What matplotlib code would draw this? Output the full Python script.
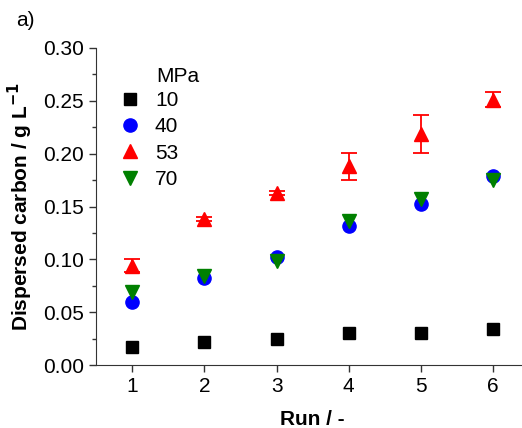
import matplotlib
matplotlib.use("Agg")
import matplotlib.pyplot as plt
from matplotlib.ticker import MultipleLocator

plt.rcParams['font.family'] = ['Liberation Sans', 'DejaVu Sans']

runs = [1, 2, 3, 4, 5, 6]
p10 = [0.017, 0.022, 0.025, 0.030, 0.030, 0.034]
p40 = [0.060, 0.082, 0.102, 0.132, 0.152, 0.179]
p53 = [0.094, 0.138, 0.163, 0.188, 0.219, 0.251]
p53_err = [0.006, 0.002, 0.002, 0.013, 0.018, 0.007]
p70 = [0.069, 0.084, 0.098, 0.136, 0.157, 0.175]

fig = plt.figure(figsize=(5.22, 4.28), dpi=100)
ax = fig.add_axes([0.184, 0.147, 0.83, 0.741])

h10, = ax.plot(runs, p10, 's', color='black', markersize=8.5, clip_on=False)
h40, = ax.plot(runs, p40, 'o', color='#0000ff', markersize=9.5, clip_on=False)
eb = ax.errorbar(runs, p53, yerr=p53_err, fmt='^', color='#ff0000', markersize=10,
                 capsize=5.5, elinewidth=1.3, capthick=1.3, clip_on=False)
h53 = eb[0]
h70, = ax.plot(runs, p70, 'v', color='#008000', markersize=10, clip_on=False)

ax.set_xlim(0.5, 6.5)
ax.set_ylim(0, 0.30)
ax.xaxis.set_major_locator(MultipleLocator(1))
ax.yaxis.set_major_locator(MultipleLocator(0.05))
ax.yaxis.set_minor_locator(MultipleLocator(0.025))
ax.set_yticklabels([f'{v:.2f}' for v in ax.get_yticks()])
ax.tick_params(which='both', direction='out', labelsize=15, width=1, color='#333333')
ax.tick_params(which='major', length=5)
ax.tick_params(which='minor', length=3)
for s in ['top', 'right']:
    ax.spines[s].set_visible(False)
for s in ['left', 'bottom']:
    ax.spines[s].set_color('#333333')

ax.set_xlabel('Run / -', fontsize=15, fontweight='bold', labelpad=10)
ax.set_ylabel('Dispersed carbon / g L$^{\\mathbf{-1}}$', fontsize=15, fontweight='bold', labelpad=6)

# legend without title, "MPa" placed as its own text above the labels
ax.legend([h10, h40, h53, h70], ['10', '40', '53', '70'], loc='upper left',
          bbox_to_anchor=(0.03, 0.89), frameon=False, fontsize=15,
          handletextpad=0.6, labelspacing=0.35, numpoints=1, handlelength=1.2,
          borderaxespad=0)
ax.text(0.14, 0.91, 'MPa', transform=ax.transAxes, fontsize=15, va='center')

fig.text(0.03, 0.94, 'a)', fontsize=15)

fig.savefig('out.png', dpi=100)
